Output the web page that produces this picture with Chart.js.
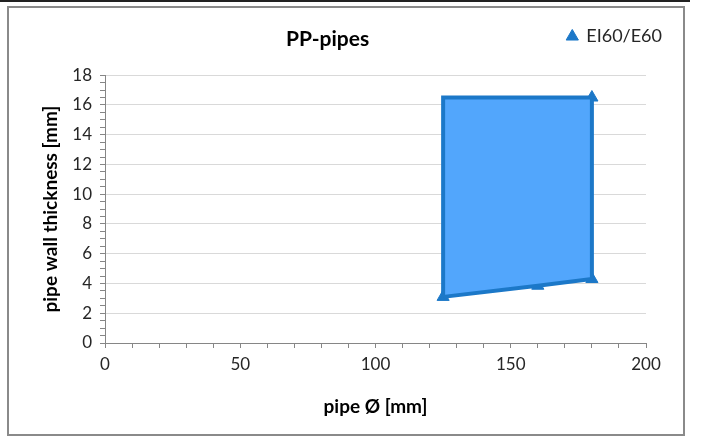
<!DOCTYPE html>
<html>
<head>
<meta charset="utf-8">
<script src="https://cdn.jsdelivr.net/npm/chart.js@4/dist/chart.umd.min.js"></script>
<style>
  html, body { margin: 0; padding: 0; background: #fff; width: 702px; height: 437px; overflow: hidden; }
  .topline { position: absolute; left: 0; top: 0; width: 690px; height: 2px; background: #222; }
  .frame { position: absolute; left: 7px; top: 6px; width: 678px; height: 430px; border: 2px solid #8a8a8a; box-sizing: border-box; }
  .frame canvas { display: block; }
</style>
</head>
<body>
<div class="topline"></div>
<div class="frame"><canvas id="pp-chart" width="674" height="426"></canvas></div>
<script>
// marcadores EI60/E60 (diâmetro x espessura)
const markerX = [125, 160, 180, 180];
const markerY = [3.1, 3.85, 4.3, 16.5];

// área classificada (contorno fechado)
const areaX = [125, 160, 180, 180, 125, 125];
const areaY = [3.1, 3.85, 4.3, 16.5, 16.5, 3.1];

const xTicks = [0, 50, 100, 150, 200];
const yTicks = [0, 2, 4, 6, 8, 10, 12, 14, 16, 18];

const FONT = "Lato, 'Open Sans', sans-serif";

// coloca a legenda na mesma linha do título
const legendBesideTitle = {
  id: 'legendBesideTitle',
  afterLayout(chart) {
    const lg = chart.legend, t = chart.titleBlock;
    if (!lg || !t) return;
    const h = lg.bottom - lg.top;
    const mid = t.top + 19 + 13;
    lg.top = mid - h / 2;
    lg.bottom = lg.top + h;
    lg.left += 19;
    lg.right += 19;
  }
};

const toPts = (xs, ys) => xs.map((x, i) => ({ x, y: ys[i] }));

new Chart(document.getElementById('pp-chart'), {
  type: 'scatter',
  data: {
    datasets: [
      {
        label: 'area',
        data: toPts(areaX, areaY),
        showLine: true,
        fill: 'shape',
        backgroundColor: '#52a6fc',
        borderColor: '#1c78c8',
        borderWidth: 4,
        borderJoinStyle: 'miter',
        pointRadius: 0,
        pointHoverRadius: 0
      },
      {
        label: 'EI60/E60',
        data: toPts(markerX, markerY),
        showLine: false,
        pointStyle: 'triangle',
        pointRadius: 7,
        backgroundColor: '#1c78c8',
        borderColor: '#1c78c8',
        borderWidth: 1
      }
    ]
  },
  options: {
    responsive: false,
    animation: false,
    layout: { padding: { left: 0, right: 37, top: 0, bottom: 0 } },
    plugins: {
      title: {
        display: true,
        text: 'PP-pipes',
        color: '#000',
        font: { family: FONT, size: 21, weight: 'bold' },
        padding: { top: 19, bottom: -8 }
      },
      legend: {
        display: true,
        position: 'top',
        align: 'end',
        labels: {
          filter: item => item.text === 'EI60/E60',
          usePointStyle: true,
          boxWidth: 10,
          boxHeight: 10,
          padding: 3,
          color: '#262626',
          font: { family: FONT, size: 18 }
        }
      },
      tooltip: { enabled: false }
    },
    scales: {
      x: {
        type: 'linear',
        min: 0,
        max: 200,
        afterFit: s => { s.height = 91; },
        ticks: {
          stepSize: 10,
          autoSkip: false,
          maxRotation: 0,
          padding: 6,
          color: '#262626',
          font: { family: FONT, size: 17 },
          callback: v => xTicks.includes(v) ? String(v) : ''
        },
        grid: {
          drawOnChartArea: false,
          tickLength: 5,
          tickColor: '#868686'
        },
        border: { color: '#868686', width: 1 },
        title: {
          display: true,
          text: 'pipe Ø [mm]',
          color: '#000',
          font: { family: FONT, size: 19, weight: 'bold' },
          padding: { top: 0, bottom: 16 }
        }
      },
      y: {
        type: 'linear',
        min: 0,
        max: 18,
        afterFit: s => { s.width = 96; },
        ticks: {
          stepSize: 0.5,
          autoSkip: false,
          padding: 8,
          color: '#262626',
          font: { family: FONT, size: 17 },
          callback: v => yTicks.includes(v) ? String(v) : ''
        },
        grid: {
          tickLength: 5,
          color: c => (c.tick && yTicks.includes(c.tick.value)) ? '#d9d9d9' : 'rgba(0,0,0,0)',
          tickColor: '#868686'
        },
        border: { color: '#868686', width: 1 },
        title: {
          display: true,
          text: 'pipe wall thickness [mm]',
          color: '#000',
          font: { family: FONT, size: 19, weight: 'bold' },
          padding: { top: 30, bottom: 0 }
        }
      }
    }
  },
  plugins: [legendBesideTitle]
});
</script>
</body>
</html>
